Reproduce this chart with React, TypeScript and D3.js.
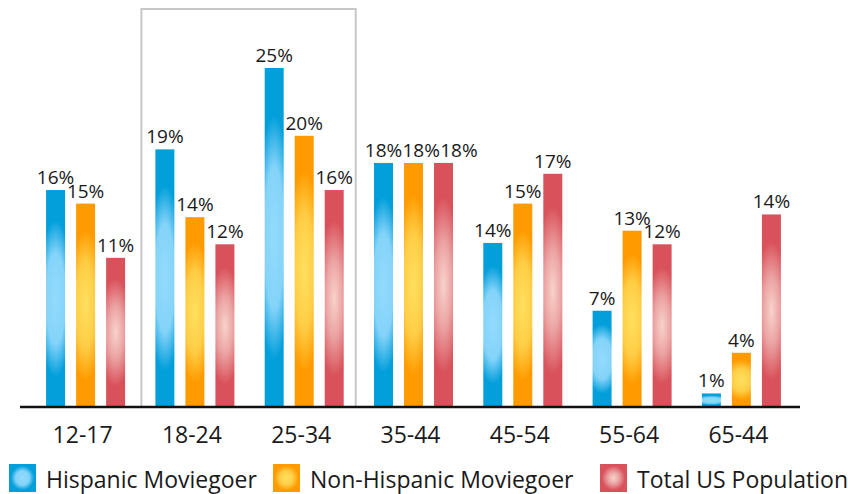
import React from "react";
import * as d3 from "d3";

const categories = ["12-17", "18-24", "25-34", "35-44", "45-54", "55-64", "65-44"];
const seriesNames = ["Hispanic Moviegoer", "Non-Hispanic Moviegoer", "Total US Population"];
// bar heights as drawn in the picture
const hispanic = [16, 19, 25, 18, 12.1, 7.1, 1];
const nonHispanic = [15, 14, 20, 18, 15, 13, 4];
const totalUS = [11, 12, 16, 18, 17.2, 12, 14.2];
// value labels as printed in the picture
const hispanicLabels = ["16%", "19%", "25%", "18%", "14%", "7%", "1%"];
const nonHispanicLabels = ["15%", "14%", "20%", "18%", "15%", "13%", "4%"];
const totalUSLabels = ["11%", "12%", "16%", "18%", "17%", "12%", "14%"];
const highlighted = ["18-24", "25-34"];

const palettes = [
  { id: "blue", stops: [["0", "#93dbfd"], ["0.42", "#84d3f9"], ["0.72", "#039fdb"], ["1", "#039fdb"]] },
  { id: "orange", stops: [["0", "#ffe060"], ["0.42", "#ffcd45"], ["0.74", "#ff9b00"], ["1", "#ff9b00"]] },
  { id: "red", stops: [["0", "#f8d3ca"], ["0.35", "#eba3a3"], ["0.72", "#d9525b"], ["1", "#d9525b"]] },
];

const W = 848;
const H = 494;
const baseY = 407;
const FONT = "'Open Sans', 'Noto Sans', sans-serif";
const LABEL_SIZE = 19;

function labelWidth(s: string, size: number) {
  let w = 0;
  for (const ch of s) w += ch === "%" ? 0.84 : 0.572;
  return w * size;
}

export default function App() {
  const seriesData = [hispanic, nonHispanic, totalUS];
  const seriesLabels = [hispanicLabels, nonHispanicLabels, totalUSLabels];
  const x0 = d3.scaleBand<string>().domain(categories).range([31, 796]).paddingInner(0.277).paddingOuter(0.138);
  const x1 = d3.scaleBand<number>().domain([0, 1, 2]).range([0, x0.bandwidth()]).paddingInner(0.367);
  const y = d3.scaleLinear().domain([0, 25]).range([baseY, 68]);

  const hlLeft = (x0(highlighted[0]) as number) - 14;
  const hlRight = (x0(highlighted[1]) as number) + x0.bandwidth() + 12;

  const legendX = [9, 273, 600];

  const labels: { x: number; y: number; t: string; key: string }[] = [];
  categories.forEach((cat, ci) => {
    let prevRight = -Infinity;
    let prevY = -Infinity;
    seriesData.forEach((s, si) => {
      const v = s[ci];
      const t = seriesLabels[si][ci];
      const w = labelWidth(t, LABEL_SIZE);
      let cx = (x0(cat) as number) + (x1(si) as number) + x1.bandwidth() / 2;
      const ly = y(v) - 6;
      if (Math.abs(ly - prevY) < 12 && cx - w / 2 < prevRight) cx = prevRight + w / 2;
      labels.push({ x: cx, y: ly, t, key: cat + si });
      prevRight = cx + w / 2;
      prevY = ly;
    });
  });

  return (
    <svg width={W} height={H} style={{ position: "absolute", left: 0, top: 0, background: "#fff" }}>
      <defs>
        {palettes.map((p) => (
          <radialGradient key={p.id} id={"g-" + p.id} cx="0.5" cy="0.5" r="0.5"
            gradientTransform="translate(0.5 0.5) scale(2.5 1) translate(-0.5 -0.5)">
            {p.stops.map(([o, c]) => <stop key={o} offset={o} stopColor={c} />)}
          </radialGradient>
        ))}
        {palettes.map((p) => (
          <radialGradient key={"l" + p.id} id={"lg-" + p.id} cx="0.5" cy="0.5" r="0.6">
            {p.stops.map(([o, c]) => <stop key={o} offset={o} stopColor={c} />)}
          </radialGradient>
        ))}
      </defs>

      <rect x={hlLeft} y={9} width={hlRight - hlLeft} height={baseY - 9} fill="none" stroke="#c8c8c8" strokeWidth={2} />

      {categories.map((cat, ci) => (
        <g key={cat} transform={`translate(${x0(cat)},0)`}>
          {seriesData.map((s, si) => {
            const v = s[ci];
            const bx = x1(si) as number;
            return (
              <rect key={si} x={bx} y={y(v)} width={x1.bandwidth()} height={baseY - y(v)} fill={`url(#g-${palettes[si].id})`} />
            );
          })}
        </g>
      ))}

      {labels.map((l) => (
        <text key={l.key} x={l.x} y={l.y} textAnchor="middle" fontSize={LABEL_SIZE} fontFamily={FONT} fill="#1a1a1a">
          {l.t}
        </text>
      ))}

      <line x1={20} x2={800} y1={baseY} y2={baseY} stroke="#111" strokeWidth={2.5} />

      {categories.map((cat) => (
        <text key={cat} x={(x0(cat) as number) + x0.bandwidth() / 2 - 3} y={443} textAnchor="middle" fontSize={23} fontFamily={FONT} fill="#1a1a1a">
          {cat}
        </text>
      ))}

      {seriesNames.map((name, i) => (
        <g key={name}>
          <rect x={legendX[i]} y={464} width={27} height={28} fill={`url(#lg-${palettes[i].id})`} />
          <text x={legendX[i] + 37} y={488} fontSize={23} fontFamily={FONT} fill="#1a1a1a">{name}</text>
        </g>
      ))}
    </svg>
  );
}
